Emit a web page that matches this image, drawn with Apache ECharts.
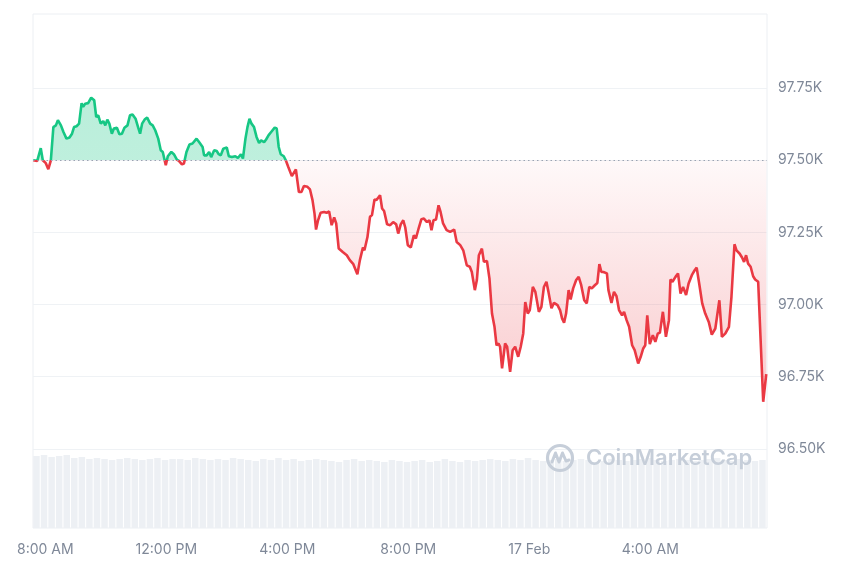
<!DOCTYPE html>
<html><head><meta charset="utf-8">
<script src="https://cdn.jsdelivr.net/npm/echarts@6/dist/echarts.min.js"></script>
<style>html,body{margin:0;padding:0;background:#fff}#c{width:860px;height:573px}</style>
</head><body><div id="c"></div>
<script>
// time in minutes since 16 Feb 00:00
const times = [
456,464,471,475,481,486,491,496,501,505,
511,516,522,528,533,537,542,547,552,555,
559,565,571,577,581,585,590,595,599,603,
607,612,616,622,627,632,637,643,648,653,
659,664,668,672,677,682,688,693,698,704,
709,713,715,719,723,730,735,741,745,751,
755,760,766,772,780,785,792,795,800,805,
809,815,820,824,828,833,840,844,850,857,
862,868,872,877,881,885,889,894,899,904,
908,914,918,923,928,935,939,943,947,953,
957,962,969,977,983,988,993,1000,1005,1010,
1014,1017,1021,1026,1033,1038,1043,1048,1053,1057,
1062,1070,1078,1084,1091,1099,1104,1110,1113,1119,
1124,1128,1133,1137,1144,1148,1152,1158,1164,1170,
1176,1180,1185,1190,1194,1199,1205,1211,1215,1221,
1226,1231,1237,1242,1246,1250,1255,1260,1264,1269,
1276,1283,1291,1296,1303,1309,1316,1322,1326,1332,
1336,1340,1346,1350,1356,1361,1366,1371,1375,1379,
1382,1386,1392,1396,1402,1407,1412,1418,1423,1428,
1432,1437,1441,1447,1452,1459,1464,1469,1474,1478,
1484,1489,1496,1501,1505,1509,1513,1518,1522,1527,
1533,1538,1543,1549,1554,1559,1564,1570,1575,1579,
1583,1587,1594,1597,1603,1608,1613,1618,1624,1628,
1633,1638,1644,1649,1656,1661,1666,1670,1674,1679,
1685,1690,1695,1699,1705,1711,1717,1720,1724,1730,
1735,1740,1745,1751,1756,1763,1768,1772,1777,1783,
1789,1796,1802,1809,1817,1822,1829,1836,1841,1847,
1851,1857,1862,1866,1870,1874,1879,1884,1888,1894,
1904,1910
];
const prices = [
97500,97498,97542,97500,97490,97469,97500,97615,97621,97639,
97621,97598,97575,97579,97592,97615,97618,97627,97698,97685,
97696,97698,97717,97708,97650,97656,97627,97636,97621,97641,
97627,97592,97610,97613,97590,97592,97613,97621,97656,97659,
97644,97615,97592,97627,97641,97648,97627,97621,97604,97575,
97535,97529,97532,97483,97514,97529,97521,97502,97498,97486,
97489,97529,97555,97558,97575,97563,97546,97517,97517,97529,
97511,97535,97532,97521,97517,97540,97544,97514,97511,97514,
97508,97521,97506,97575,97615,97644,97627,97615,97581,97560,
97569,97563,97572,97587,97598,97613,97610,97546,97521,97514,
97500,97477,97445,97468,97390,97390,97411,97408,97399,97362,
97315,97260,97292,97318,97321,97318,97323,97275,97302,97281,
97194,97182,97171,97154,97140,97105,97154,97198,97188,97234,
97304,97310,97364,97362,97379,97333,97324,97278,97275,97286,
97278,97246,97278,97292,97267,97206,97198,97240,97229,97267,
97296,97298,97286,97292,97258,97292,97295,97344,97321,97281,
97258,97252,97260,97217,97206,97188,97136,97131,97113,97050,
97085,97171,97194,97148,97151,97090,96969,96923,96859,96865,
96854,96779,96865,96854,96767,96842,96854,96819,96854,96900,
97009,96969,96981,97061,97044,96975,96992,97061,97079,97044,
96987,97006,96998,96981,96952,96937,96969,97050,97018,97056,
97085,97096,97067,97015,97004,97061,97056,97067,97075,97140,
97113,97113,97108,97050,97006,97044,97029,96981,96963,96975,
96946,96923,96859,96842,96796,96819,96848,96859,96963,96863,
96894,96871,96900,96902,96975,96888,96946,97087,97079,97096,
97108,97038,97061,97033,97073,97104,97119,97128,97073,97004,
96969,96940,96896,96917,97015,96888,96900,96923,97027,97209,
97188,97177,97163,97148,97171,97142,97131,97098,97087,97079,
96663,96759
];
const baseline = 97500;
const xTickValues = [480, 720, 960, 1200, 1440, 1680];
const xTickLabels = ['8:00 AM', '12:00 PM', '4:00 PM', '8:00 PM', '17 Feb', '4:00 AM'];
const yTickValues = [96500, 96750, 97000, 97250, 97500, 97750];
const yTickLabels = ['96.50K', '96.75K', '97.00K', '97.25K', '97.50K', '97.75K'];
// volume bars, one per 15 minutes
const volStart = 462.5, volStep = 15;
const volumes = [
72,73,71,72,73,70,71,69,70,69,
68,69,70,69,68,69,70,68,69,69,
68,70,69,68,69,68,70,69,68,67,
69,68,70,68,69,67,68,69,68,67,
66,68,69,67,68,67,66,68,67,66,
67,68,66,67,69,67,66,68,67,68,
69,68,67,69,68,70,68,67,68,69,
67,68,69,68,66,67,69,68,67,68,
69,70,68,67,68,69,68,67,68,69,
70,68,67,69,68,67,68
];

const GREEN = '#16c784', RED = '#ea3943';
const xMin = 455.6, xMax = 1911.5;
const priceData = times.map((t, i) => [t, prices[i]]);
const volData = volumes.map((v, i) => [volStart + i * volStep, v]);

const chart = echarts.init(document.getElementById('c'), null, {renderer: 'canvas'});
const gridLineColor = '#eff2f5';
const baseOption = {
  animation: false,
  backgroundColor: '#ffffff',
  grid: [
    {left: 33, right: 93, top: 16, bottom: 52},
    {left: 33, right: 93, top: 14, bottom: 45, show: true, borderColor: '#eceff3', borderWidth: 1}
  ],
  xAxis: [
    {type: 'value', gridIndex: 0, min: xMin, max: xMax, show: false, splitLine: {show: false}},
    {type: 'value', gridIndex: 1, min: xMin, max: xMax,
      axisLine: {show: false}, axisTick: {show: false}, splitLine: {show: false},
      axisLabel: {customValues: xTickValues, margin: 15, color: '#7f8898', fontSize: 14, fontFamily: 'Inter',
        formatter: v => { const i = xTickValues.indexOf(v); return i >= 0 ? xTickLabels[i] : ''; }}}
  ],
  yAxis: [
    {type: 'value', gridIndex: 0, position: 'right', min: 96250, max: 98000, interval: 250,
      axisLine: {show: false}, axisTick: {show: false},
      splitLine: {show: true, lineStyle: {color: ['rgba(0,0,0,0)', gridLineColor, gridLineColor, gridLineColor, gridLineColor, gridLineColor, gridLineColor, 'rgba(0,0,0,0)'], width: 1}},
      axisLabel: {margin: 11, color: '#7f8898', fontSize: 14, fontFamily: 'Inter',
        formatter: v => { const i = yTickValues.indexOf(v); return i >= 0 ? yTickLabels[i] : ''; }}},
    {type: 'value', gridIndex: 1, min: 0, max: 514, show: false, splitLine: {show: false}}
  ],
  series: [
    {type: 'bar', xAxisIndex: 1, yAxisIndex: 1, data: volData, barWidth: 6.5,
      itemStyle: {color: '#edf0f4'}, silent: true, z: 1},
    {type: 'line', xAxisIndex: 0, yAxisIndex: 0, data: priceData, showSymbol: false, symbol: 'none',
      lineStyle: {width: 2.6, color: RED}, z: 3,
      markLine: {silent: true, symbol: 'none', label: {show: false},
        lineStyle: {type: [1.5, 3], color: '#9aa3b2', width: 1.2},
        data: [{yAxis: baseline}]}}
  ]
};
chart.setOption(baseOption);

const yTop = chart.convertToPixel({yAxisIndex: 0}, 98000);
const yBot = chart.convertToPixel({yAxisIndex: 0}, 96250);
const yBase = chart.convertToPixel({yAxisIndex: 0}, baseline);
const b = (yBase - yTop) / (yBot - yTop);
const lineGrad = new echarts.graphic.LinearGradient(0, yTop, 0, yBot, [
  {offset: 0, color: GREEN}, {offset: b, color: GREEN},
  {offset: b, color: RED}, {offset: 1, color: RED}
], true);
const areaGrad = new echarts.graphic.LinearGradient(0, yTop, 0, yBot, [
  {offset: 0, color: 'rgba(22,199,132,0.32)'},
  {offset: b, color: 'rgba(22,199,132,0.28)'},
  {offset: b, color: 'rgba(234,57,67,0.03)'},
  {offset: Math.min(1, b + 0.5), color: 'rgba(234,57,67,0.28)'},
  {offset: 1, color: 'rgba(234,57,67,0.32)'}
], true);
const wm = '#c6ced9';
chart.setOption({
  series: [{}, {lineStyle: {width: 2.6, color: lineGrad}, areaStyle: {origin: baseline, opacity: 1, color: areaGrad}}],
  graphic: [{
    type: 'group', left: 545, top: 443, z: 100, silent: true,
    children: [
      {type: 'circle', z: 100, shape: {cx: 14, cy: 15, r: 12.5}, style: {fill: 'none', stroke: wm, lineWidth: 3.2}},
      {type: 'polyline', z: 100, shape: {points: [[6, 19], [9.5, 10], [13, 19], [16.5, 10], [20, 18], [23, 17]]},
        style: {fill: 'none', stroke: wm, lineWidth: 3, lineJoin: 'round', lineCap: 'round'}},
      {type: 'text', z: 100, x: 40, y: 15, style: {text: 'CoinMarketCap', fill: wm, font: '600 22px Inter', textVerticalAlign: 'middle'}}
    ]
  }]
});
</script>
</body></html>
